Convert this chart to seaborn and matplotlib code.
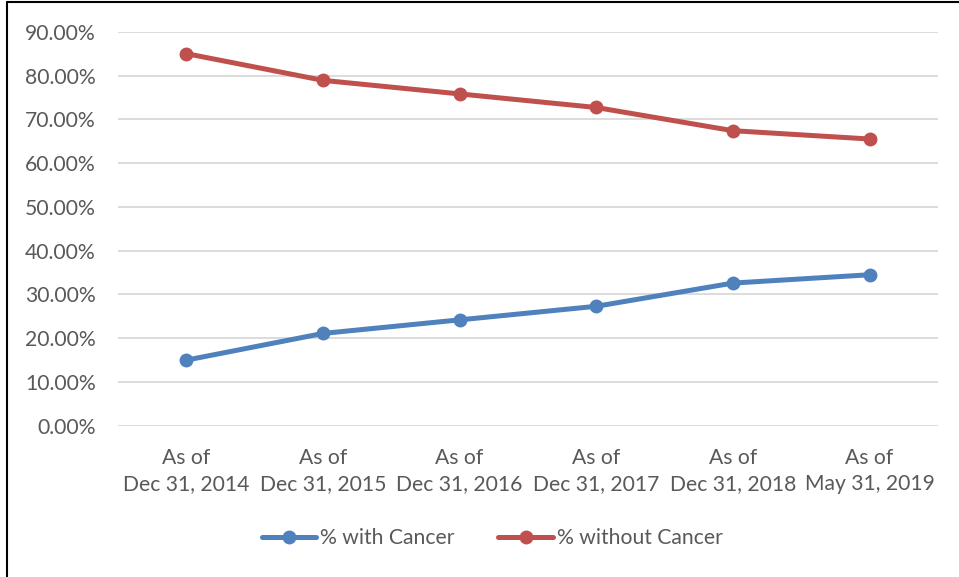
import matplotlib
matplotlib.use("Agg")
import matplotlib.pyplot as plt
import matplotlib.ticker as mtick
from matplotlib.lines import Line2D
import seaborn as sns
import pandas as pd

# data
dates = ["As of\nDec 31, 2014", "As of\nDec 31, 2015", "As of\nDec 31, 2016",
         "As of\nDec 31, 2017", "As of\nDec 31, 2018", "As of\nMay 31, 2019"]
with_cancer = [0.150, 0.211, 0.242, 0.273, 0.326, 0.345]
without_cancer = [0.850, 0.789, 0.758, 0.727, 0.674, 0.655]
series_names = ["% with Cancer", "% without Cancer"]
colors = ["#4F81BD", "#C0504D"]

df = pd.DataFrame({
    "date": dates * 2,
    "value": with_cancer + without_cancer,
    "series": [series_names[0]] * len(dates) + [series_names[1]] * len(dates),
})

sns.set_style("white")
plt.rcParams["font.family"] = ["Lato", "DejaVu Sans"]

fig = plt.figure(figsize=(9.59, 5.77), dpi=100)
ax = fig.add_axes([0.123, 0.262, 0.855, 0.683])

sns.lineplot(data=df, x="date", y="value", hue="series", palette=colors,
             marker="o", markersize=10, markeredgewidth=0, linewidth=3.6,
             sort=False, legend=False, ax=ax)

ax.set_xlim(-0.5, len(dates) - 0.5)
ax.set_ylim(0, 0.9)
ax.yaxis.set_major_locator(mtick.MultipleLocator(0.1))
ax.yaxis.set_major_formatter(mtick.PercentFormatter(1.0, decimals=2))
ax.grid(axis="y", color="#D9D9D9", linewidth=1.3)
ax.set_axisbelow(True)
for s in ax.spines.values():
    s.set_visible(False)
ax.set_xlabel("")
ax.set_ylabel("")
ax.tick_params(axis="both", length=0, labelsize=15.2, colors="#595959")
ax.tick_params(axis="x", pad=16)
ax.tick_params(axis="y", pad=16)
for lbl in ax.get_xticklabels():
    lbl.set_linespacing(1.35)

handles = [Line2D([], [], color=c, marker="o", markersize=10, markeredgewidth=0,
                  linewidth=3.6) for c in colors]
fig.legend(handles, series_names, loc="center", bbox_to_anchor=(0.513, 0.067),
           ncol=2, frameon=False, fontsize=15.2, labelcolor="#595959",
           handlelength=2.6, handletextpad=0.15, columnspacing=2.1)

# thin frame lines on the left and top like the source image
fig.add_artist(Line2D([0.007, 0.007], [0, 0.997], color="black", linewidth=1.5,
                      transform=fig.transFigure))
fig.add_artist(Line2D([0.007, 1.0], [0.997, 0.997], color="black", linewidth=1.5,
                      transform=fig.transFigure))

fig.savefig("out.png", dpi=100)
